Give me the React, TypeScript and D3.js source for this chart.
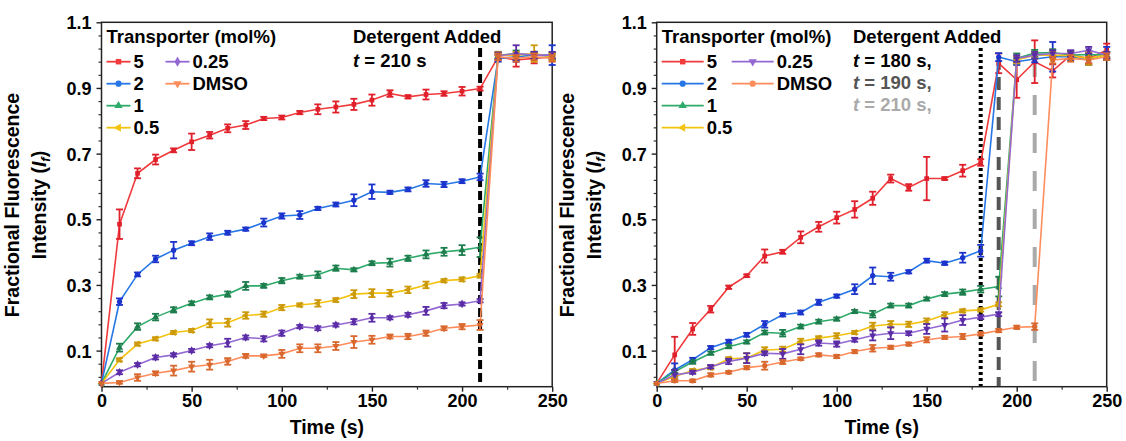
import React, {useEffect, useRef} from 'react';
import * as d3 from 'd3';

// time points (s)
const times = [0, 10, 20, 30, 40, 50, 60, 70, 80, 90, 100, 110, 120, 130, 140, 150, 160, 170, 180, 190, 200, 210, 220, 230, 240, 250];

// left panel: detergent at 210 s
const left5 = [0, 0.485, 0.64, 0.682, 0.71, 0.736, 0.756, 0.777, 0.787, 0.807, 0.81, 0.825, 0.835, 0.842, 0.85, 0.863, 0.883, 0.873, 0.88, 0.883, 0.89, 0.898, 0.995, 0.985, 0.99, 0.995];
const left5Err = [0, 0.045, 0.015, 0.015, 0.006, 0.025, 0.01, 0.012, 0.012, 0.005, 0.006, 0.005, 0.015, 0.017, 0.017, 0.017, 0.01, 0.005, 0.015, 0.007, 0.013, 0.006, 0.01, 0.02, 0.015, 0.012];
const left2 = [0, 0.249, 0.332, 0.379, 0.406, 0.427, 0.447, 0.459, 0.47, 0.49, 0.51, 0.513, 0.533, 0.545, 0.558, 0.584, 0.582, 0.591, 0.609, 0.606, 0.616, 0.629, 0.99, 0.995, 1.0, 1.0];
const left2Err = [0, 0.01, 0.006, 0.01, 0.025, 0.006, 0.01, 0.006, 0.005, 0.012, 0.008, 0.012, 0.005, 0.006, 0.018, 0.022, 0.005, 0.006, 0.01, 0.008, 0.006, 0.01, 0.01, 0.01, 0.01, 0.03];
const left1 = [0, 0.109, 0.173, 0.202, 0.224, 0.244, 0.262, 0.272, 0.297, 0.297, 0.313, 0.325, 0.331, 0.351, 0.346, 0.366, 0.368, 0.381, 0.393, 0.401, 0.406, 0.415, 1.0, 1.004, 1.0, 0.998];
const left1Err = [0, 0.012, 0.01, 0.01, 0.008, 0.006, 0.006, 0.008, 0.012, 0.006, 0.008, 0.006, 0.01, 0.008, 0.005, 0.006, 0.012, 0.008, 0.012, 0.012, 0.015, 0.03, 0.01, 0.01, 0.01, 0.01];
const left05 = [0, 0.072, 0.12, 0.136, 0.155, 0.161, 0.183, 0.185, 0.207, 0.211, 0.231, 0.239, 0.244, 0.254, 0.272, 0.275, 0.275, 0.285, 0.3, 0.313, 0.317, 0.328, 1.0, 1.0, 1.005, 0.995];
const left05Err = [0, 0.005, 0.005, 0.005, 0.005, 0.005, 0.012, 0.012, 0.01, 0.008, 0.008, 0.005, 0.01, 0.006, 0.012, 0.012, 0.01, 0.01, 0.01, 0.005, 0.006, 0.006, 0.01, 0.01, 0.025, 0.01];
const left025 = [0, 0.034, 0.057, 0.079, 0.087, 0.1, 0.115, 0.124, 0.14, 0.136, 0.153, 0.173, 0.168, 0.178, 0.188, 0.2, 0.2, 0.209, 0.221, 0.237, 0.242, 0.252, 0.998, 1.005, 1.0, 1.0];
const left025Err = [0, 0.006, 0.005, 0.006, 0.005, 0.005, 0.005, 0.012, 0.006, 0.008, 0.008, 0.005, 0.006, 0.005, 0.008, 0.012, 0.005, 0.006, 0.012, 0.008, 0.005, 0.005, 0.01, 0.025, 0.01, 0.01];
const leftDmso = [0, 0.003, 0.018, 0.031, 0.039, 0.051, 0.057, 0.067, 0.084, 0.084, 0.09, 0.107, 0.107, 0.114, 0.126, 0.133, 0.143, 0.143, 0.153, 0.168, 0.173, 0.178, 0.995, 0.99, 0.995, 0.99];
const leftDmsoErr = [0, 0.004, 0.01, 0.006, 0.015, 0.015, 0.015, 0.01, 0.006, 0.004, 0.012, 0.012, 0.012, 0.012, 0.018, 0.012, 0.006, 0.008, 0.008, 0.006, 0.008, 0.015, 0.01, 0.01, 0.01, 0.01];

// right panel: detergent at 180 / 190 / 210 s
const right5 = [0, 0.087, 0.166, 0.226, 0.293, 0.328, 0.388, 0.401, 0.445, 0.477, 0.505, 0.53, 0.564, 0.624, 0.597, 0.624, 0.624, 0.648, 0.673, 0.975, 0.925, 0.98, 0.952, 1.0, 0.99, 1.015];
const right5Err = [0, 0.055, 0.018, 0.01, 0.005, 0.004, 0.02, 0.006, 0.018, 0.015, 0.018, 0.025, 0.02, 0.012, 0.01, 0.066, 0.004, 0.018, 0.01, 0.03, 0.055, 0.065, 0.02, 0.012, 0.015, 0.02];
const right2 = [0, 0.041, 0.072, 0.109, 0.128, 0.148, 0.18, 0.209, 0.216, 0.247, 0.266, 0.287, 0.328, 0.325, 0.34, 0.374, 0.366, 0.383, 0.404, 0.994, 0.98, 0.988, 0.995, 0.995, 0.985, 1.005];
const right2Err = [0, 0.02, 0.006, 0.005, 0.005, 0.006, 0.01, 0.005, 0.006, 0.008, 0.005, 0.015, 0.025, 0.012, 0.005, 0.006, 0.005, 0.015, 0.018, 0.012, 0.01, 0.01, 0.045, 0.01, 0.015, 0.02];
const right1 = [0, 0.036, 0.065, 0.092, 0.112, 0.126, 0.155, 0.153, 0.173, 0.188, 0.196, 0.219, 0.211, 0.237, 0.237, 0.257, 0.272, 0.278, 0.287, 0.295, 0.99, 1.006, 1.008, 1.0, 1.002, 1.0];
const right1Err = [0, 0.005, 0.005, 0.005, 0.005, 0.005, 0.006, 0.01, 0.006, 0.006, 0.005, 0.005, 0.01, 0.006, 0.006, 0.005, 0.006, 0.008, 0.01, 0.03, 0.015, 0.01, 0.01, 0.01, 0.01, 0.01];
const right05 = [0, 0.021, 0.039, 0.048, 0.075, 0.077, 0.102, 0.104, 0.128, 0.138, 0.145, 0.155, 0.175, 0.18, 0.18, 0.19, 0.209, 0.221, 0.224, 0.241, 0.985, 1.0, 1.0, 0.998, 0.99, 1.0];
const right05Err = [0, 0.005, 0.005, 0.005, 0.005, 0.015, 0.008, 0.008, 0.008, 0.006, 0.008, 0.005, 0.01, 0.01, 0.008, 0.008, 0.008, 0.005, 0.005, 0.006, 0.01, 0.01, 0.01, 0.01, 0.02, 0.01];
const right025 = [0, 0.026, 0.034, 0.051, 0.067, 0.077, 0.092, 0.09, 0.104, 0.123, 0.12, 0.133, 0.146, 0.153, 0.153, 0.166, 0.178, 0.193, 0.202, 0.211, 0.99, 1.0, 1.005, 1.005, 1.015, 1.0];
const right025Err = [0, 0.015, 0.005, 0.005, 0.008, 0.015, 0.006, 0.015, 0.015, 0.008, 0.008, 0.006, 0.015, 0.018, 0.006, 0.015, 0.02, 0.015, 0.006, 0.006, 0.01, 0.01, 0.01, 0.01, 0.01, 0.01];
const rightDmso = [0, 0.008, 0.008, 0.026, 0.034, 0.048, 0.054, 0.065, 0.075, 0.087, 0.082, 0.097, 0.107, 0.11, 0.12, 0.133, 0.14, 0.143, 0.151, 0.161, 0.171, 0.173, 0.985, 0.99, 0.985, 0.995];
const rightDmsoErr = [0, 0.004, 0.004, 0.005, 0.004, 0.005, 0.012, 0.006, 0.004, 0.005, 0.005, 0.005, 0.01, 0.005, 0.005, 0.008, 0.005, 0.008, 0.005, 0.005, 0.005, 0.01, 0.01, 0.01, 0.01, 0.01];

const seriesNames = ['5', '2', '1', '0.5', '0.25', 'DMSO'];
const lineColors = ['#f03a3c', '#2676e6', '#2eaa6a', '#f4c30f', '#9468d2', '#ff8d5c'];
const barColors = ['#e0202a', '#1c34cc', '#1d7d4c', '#cc9a0a', '#5a2ca6', '#d8682e'];
const leftShapes = ['square', 'circle', 'triUp', 'triLeft', 'diamond', 'triDown'];
const rightShapes = ['square', 'circle', 'triUp', 'triLeft', 'triDown', 'circle'];

const xTicks = [0, 50, 100, 150, 200, 250];
const yTicks = [0.1, 0.3, 0.5, 0.7, 0.9, 1.1];

const FONT = 'Liberation Sans, Arial, sans-serif';

const symbolPath = (shape: string, size: number) => {
    const types: any = {
        square: d3.symbolSquare, circle: d3.symbolCircle, triUp: d3.symbolTriangle,
        triLeft: d3.symbolTriangle, triDown: d3.symbolTriangle, diamond: d3.symbolDiamond,
    };
    return d3.symbol().type(types[shape]).size(size)();
};
const symbolRotate = (shape: string) => shape === 'triLeft' ? -90 : shape === 'triDown' ? 180 : 0;

const App = () => {
    const svgRef = useRef<SVGSVGElement>(null);

    useEffect(() => {
        const svg = d3.select(svgRef.current);
        svg.selectAll('*').remove();

        const yScale = d3.scaleLinear().domain([-0.01, 1.1]).range([386.7, 22.3]);

        const panels = [
            {
                x0: 101.5, x1: 552.2,
                values: [left5, left2, left1, left05, left025, leftDmso],
                errors: [left5Err, left2Err, left1Err, left05Err, left025Err, leftDmsoErr],
                shapes: leftShapes, legLen: 24, col2: 59,
                vlines: [{t: 210, color: '#000', dash: '9,4', top: 48}],
            },
            {
                x0: 656.7, x1: 1106.7,
                values: [right5, right2, right1, right05, right025, rightDmso],
                errors: [right5Err, right2Err, right1Err, right05Err, right025Err, rightDmsoErr],
                shapes: rightShapes, legLen: 42, col2: 70,
                vlines: [
                    {t: 180, color: '#000', dash: '3,3', top: 48},
                    {t: 190, color: '#555', dash: '13,7', top: 57},
                    {t: 210, color: '#aaa', dash: '20,18', top: 57},
                ],
            },
        ];

        panels.forEach((p, pi) => {
            const xScale = d3.scaleLinear().domain([0, 250]).range([p.x0, p.x1]);
            const g = svg.append('g');

            // Minor ticks
            g.append('g').attr('transform', `translate(${p.x0},0)`)
                .call(d3.axisLeft(yScale).tickValues(d3.range(0.02, 1.1, 0.04).filter(v => Math.abs(((v - 0.1) / 0.2) - Math.round((v - 0.1) / 0.2)) > 0.01)).tickSize(3).tickFormat(() => ''))
                .call(a => a.select('.domain').remove())
                .selectAll('line').attr('stroke', '#333').attr('stroke-width', 1.2);
            g.append('g').attr('transform', `translate(0,386.7)`)
                .call(d3.axisBottom(xScale).tickValues([25, 75, 125, 175, 225]).tickSize(3).tickFormat(() => ''))
                .call(a => a.select('.domain').remove())
                .selectAll('line').attr('stroke', '#333').attr('stroke-width', 1.2);

            // Major axes
            const yAx = g.append('g').attr('transform', `translate(${p.x0},0)`)
                .call(d3.axisLeft(yScale).tickValues(yTicks).tickSize(5).tickPadding(5).tickFormat(d3.format('.1f')));
            yAx.select('.domain').remove();
            yAx.selectAll('line').attr('stroke', '#222').attr('stroke-width', 1.4);
            yAx.selectAll('text').attr('font-family', FONT).attr('font-weight', 'bold').attr('font-size', 18).attr('fill', '#000').attr('dy', '0.36em');

            const xAx = g.append('g').attr('transform', `translate(0,386.7)`)
                .call(d3.axisBottom(xScale).tickValues(xTicks).tickSize(5).tickPadding(3));
            xAx.select('.domain').remove();
            xAx.selectAll('line').attr('stroke', '#222').attr('stroke-width', 1.4);
            xAx.selectAll('text').attr('font-family', FONT).attr('font-weight', 'bold').attr('font-size', 18).attr('fill', '#000');

            // Frame
            g.append('rect').attr('x', p.x0).attr('y', 22.3)
                .attr('width', p.x1 - p.x0).attr('height', 386.7 - 22.3)
                .attr('fill', 'none').attr('stroke', '#222').attr('stroke-width', 1.5);

            // Axis titles
            g.append('text').attr('x', (p.x0 + p.x1) / 2).attr('y', 434)
                .attr('text-anchor', 'middle').attr('font-family', FONT).attr('font-weight', 'bold')
                .attr('font-size', 19.5).text('Time (s)');
            const yl = p.x0 - 82.5;
            g.append('text').attr('transform', `translate(${yl},205) rotate(-90)`)
                .attr('text-anchor', 'middle').attr('font-family', FONT).attr('font-weight', 'bold')
                .attr('font-size', 19.5).text('Fractional Fluorescence');
            const it = g.append('text').attr('transform', `translate(${yl + 27},205) rotate(-90)`)
                .attr('text-anchor', 'middle').attr('font-family', FONT).attr('font-weight', 'bold')
                .attr('font-size', 19.5);
            it.append('tspan').text('Intensity (');
            it.append('tspan').attr('font-style', 'italic').text('I');
            it.append('tspan').attr('font-style', 'italic').attr('font-size', 13).attr('dy', 4).text('f');
            it.append('tspan').attr('dy', -4).text(')');

            // Detergent lines
            p.vlines.forEach(v => {
                g.append('line').attr('x1', xScale(v.t)).attr('x2', xScale(v.t))
                    .attr('y1', v.top).attr('y2', 386)
                    .attr('stroke', v.color).attr('stroke-width', 4).attr('stroke-dasharray', v.dash);
            });

            // Data
            const line = d3.line<number>().x((_, i) => xScale(times[i])).y(d => yScale(d));
            p.values.forEach((vals, si) => {
                const sg = g.append('g');
                sg.append('path').attr('d', line(vals)).attr('fill', 'none')
                    .attr('stroke', lineColors[si]).attr('stroke-width', 1.6);
                const errs = p.errors[si];
                vals.forEach((v, i) => {
                    const e = errs[i];
                    if (e <= 0) return;
                    const x = xScale(times[i]);
                    const yt = yScale(v + e), yb = yScale(v - e);
                    sg.append('line').attr('x1', x).attr('x2', x).attr('y1', yt).attr('y2', yb)
                        .attr('stroke', barColors[si]).attr('stroke-width', 1.8);
                    [yt, yb].forEach(yy => sg.append('line').attr('x1', x - 3.5).attr('x2', x + 3.5)
                        .attr('y1', yy).attr('y2', yy).attr('stroke', barColors[si]).attr('stroke-width', 1.8));
                });
                sg.selectAll('path.mk').data(vals).enter().append('path').attr('class', 'mk')
                    .attr('d', symbolPath(p.shapes[si], 22))
                    .attr('transform', (d, i) => `translate(${xScale(times[i])},${yScale(d)}) rotate(${symbolRotate(p.shapes[si])})`)
                    .attr('fill', barColors[si]);
            });

            // Legend
            const lx = p.x0 + 5;
            g.append('text').attr('x', lx).attr('y', 43).attr('font-family', FONT).attr('font-weight', 'bold')
                .attr('font-size', 18.5).text('Transporter (mol%)');
            const rows = [0, 1, 2, 3, 0, 1];
            seriesNames.forEach((name, si) => {
                const cx = si < 4 ? lx : lx + p.col2;
                const cy = 61.7 + rows[si] * 22;
                g.append('line').attr('x1', cx).attr('x2', cx + p.legLen).attr('y1', cy).attr('y2', cy)
                    .attr('stroke', lineColors[si]).attr('stroke-width', 1.8);
                g.append('path').attr('d', symbolPath(p.shapes[si], 30))
                    .attr('transform', `translate(${cx + p.legLen / 2},${cy}) rotate(${symbolRotate(p.shapes[si])})`)
                    .attr('fill', lineColors[si]);
                g.append('text').attr('x', cx + p.legLen + 3).attr('y', cy + 6.5)
                    .attr('font-family', FONT).attr('font-weight', 'bold').attr('font-size', 18.5).text(name);
            });

            // Detergent annotation
            const ax = pi === 0 ? 353 : 853;
            g.append('text').attr('x', ax).attr('y', 43).attr('font-family', FONT).attr('font-weight', 'bold')
                .attr('font-size', 18.5).text('Detergent Added');
            const notes = pi === 0
                ? [{txt: ' = 210 s', c: '#000'}]
                : [{txt: ' = 180 s,', c: '#000'}, {txt: ' = 190 s,', c: '#555'}, {txt: ' = 210 s,', c: '#aaa'}];
            notes.forEach((n, ni) => {
                const t = g.append('text').attr('x', ax).attr('y', 67 + ni * 22).attr('font-family', FONT)
                    .attr('font-weight', 'bold').attr('font-size', 18.5).attr('fill', n.c)
                    .attr('xml:space', 'preserve');
                t.append('tspan').attr('font-style', 'italic').text('t');
                t.append('tspan').text(n.txt);
            });
        });
    }, []);

    return (
        <svg ref={svgRef} width={1126} height={441}
             style={{position: 'absolute', left: 0, top: 0, background: '#fff'}}></svg>
    );
};

export default App;
